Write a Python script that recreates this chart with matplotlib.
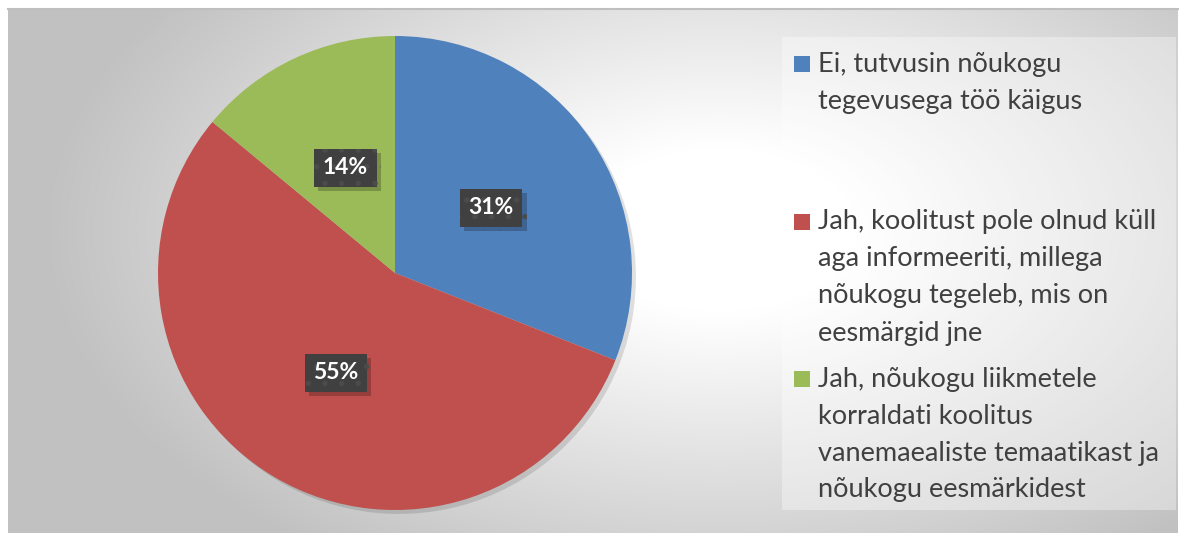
import matplotlib.pyplot as plt
import matplotlib.patheffects as pe
import numpy as np
from matplotlib.patches import Rectangle

# data
labels = [
    "Ei, tutvusin nõukogu\ntegevusega töö käigus",
    "Jah, koolitust pole olnud küll\naga informeeriti, millega\nnõukogu tegeleb, mis on\neesmärgid jne",
    "Jah, nõukogu liikmetele\nkorraldati koolitus\nvanemaealiste temaatikast ja\nnõukogu eesmärkidest",
]
shares = [31, 55, 14]
colors = ["#4F81BD", "#C0504D", "#9BBB59"]

W, H = 1180, 533
plt.rcParams['font.family'] = ['Lato', 'DejaVu Sans']
plt.rcParams['hatch.linewidth'] = 1.5

fig = plt.figure(figsize=(W / 100, H / 100), dpi=100)
fig.patch.set_facecolor('white')


def fx(px):
    return px / W


def fy(py):
    return 1 - py / H


# gradient background of the chart area
bg = fig.add_axes([fx(8), 0, fx(1170), (H - 9) / H])
ny, nx = 262, 585
xs = np.linspace(8, 1178, nx)
ys = np.linspace(9, 533, ny)
gx, gy = np.meshgrid(xs, ys)
r = np.sqrt(((gx - 720) / 560) ** 2 + ((gy - 230) / 330) ** 2)
t = np.clip((r - 0.25) / 0.95, 0, 1)
shade = 1 - 0.24 * t
img = np.dstack([shade, shade, shade])
bg.imshow(img, aspect='auto', extent=(0, 1, 0, 1), origin='upper', interpolation='bilinear')
bg.set_xlim(0, 1)
bg.set_ylim(0, 1)
bg.set_xticks([])
bg.set_yticks([])
for s in ['left', 'right', 'bottom']:
    bg.spines[s].set_visible(False)
bg.spines['top'].set_color('#bfbfbf')
bg.spines['top'].set_linewidth(1.5)

# pie
cx, cy, R = 395, 273, 237
ax = fig.add_axes([fx(cx - R), fy(cy + R), fx(2 * R), 2 * R / H])
ax.patch.set_alpha(0)
wedges, texts, autotexts = ax.pie(
    shares, colors=colors, startangle=90, counterclock=False,
    autopct='%1.0f%%', pctdistance=0.49,
    shadow=dict(ox=0.012, oy=-0.012, facecolor='#000000', alpha=0.12),
    wedgeprops=dict(linewidth=0),
    textprops=dict(color='white', fontsize=16.5, fontweight='bold'),
)
ax.set_xlim(-1, 1)
ax.set_ylim(-1, 1)
for at in autotexts:
    at.set_bbox(dict(boxstyle='square,pad=0.38', facecolor='#404040',
                     edgecolor='#4b4b4b', hatch='.', linewidth=0))
    at.get_bbox_patch().set_path_effects([
        pe.withSimplePatchShadow(offset=(3, -3), shadow_rgbFace='black', alpha=0.22),
        pe.Normal()])

# legend box
lx0, lx1, ly0, ly1 = 782, 1176, 37, 510
fig.patches.append(Rectangle((fx(lx0), fy(ly1)), fx(lx1 - lx0), (ly1 - ly0) / H,
                             transform=fig.transFigure, facecolor='white',
                             alpha=0.35, edgecolor='none', zorder=1))

entry_y = [64, 222, 379]
line_h = 37
for lab, col, y0 in zip(labels, colors, entry_y):
    fig.patches.append(Rectangle((fx(794), fy(y0 + 8)), fx(16), 16 / H,
                                 transform=fig.transFigure, facecolor=col,
                                 edgecolor='none', zorder=3))
    for i, line in enumerate(lab.split('\n')):
        fig.text(fx(818), fy(y0 + i * line_h), line, fontsize=19.5,
                 color='#404040', va='center', ha='left', zorder=4)

fig.savefig('out.png', dpi=100)
